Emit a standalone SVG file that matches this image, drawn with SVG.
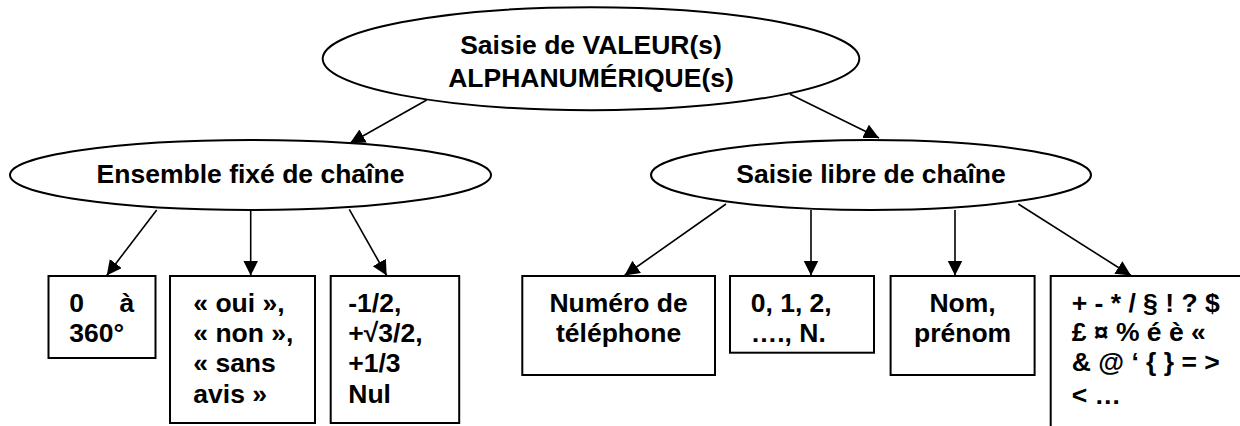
<svg xmlns="http://www.w3.org/2000/svg" width="1240" height="426" viewBox="0 0 1240 426">
<style>
.shape{fill:#fff;stroke:#000;stroke-width:2}
.t{font-family:"Liberation Sans",Arial,sans-serif;font-weight:bold;font-size:26.5px;fill:#000}
.m{text-anchor:middle}
.c line{stroke:#000;stroke-width:1.6;marker-end:url(#ah)}
</style>
<defs>
<marker id="ah" markerUnits="userSpaceOnUse" markerWidth="16" markerHeight="16" refX="15" refY="7.5" orient="auto">
<path d="M0,0 L15,7.5 L0,15 Z" fill="#000"/>
</marker>
</defs>
<rect width="1240" height="426" fill="#fff"/>
<g id="root">
<ellipse class="shape" cx="591" cy="58.7" rx="268.3" ry="51.5"/>
<text class="t m" x="591" y="54">Saisie de VALEUR(s)</text>
<text class="t m" x="591" y="87.3">ALPHANUMÉRIQUE(s)</text>
</g>
<g id="fixe">
<ellipse class="shape" cx="250.5" cy="175" rx="240.5" ry="35"/>
<text class="t m" x="250.5" y="183.3">Ensemble fixé de chaîne</text>
</g>
<g id="libre">
<ellipse class="shape" cx="871" cy="175" rx="220" ry="35"/>
<text class="t m" x="871" y="183.3">Saisie libre de chaîne</text>
</g>
<g id="b1">
<rect class="shape" x="48.5" y="276" width="107" height="82"/>
<text class="t" y="312.3"><tspan x="69.3">0</tspan><tspan x="119.5">à</tspan></text>
<text class="t" x="69.3" y="341.7">360°</text>
</g>
<g id="b2">
<rect class="shape" x="170" y="276" width="145" height="147"/>
<text class="t" x="193.3" y="312.3">« oui »,</text>
<text class="t" x="193.3" y="341.7">« non »,</text>
<text class="t" x="193.3" y="371.7">« sans</text>
<text class="t" x="193.3" y="403">avis »</text>
</g>
<g id="b3">
<rect class="shape" x="330.7" y="276" width="128.5" height="147"/>
<text class="t" x="348.3" y="312.3">-1/2,</text>
<text class="t" x="348.3" y="341.7">+√3/2,</text>
<text class="t" x="348.3" y="371.7">+1/3</text>
<text class="t" x="348.3" y="403">Nul</text>
</g>
<g id="b4">
<rect class="shape" x="522.3" y="276" width="192.7" height="99"/>
<text class="t m" x="618.6" y="312.3">Numéro de</text>
<text class="t m" x="618.6" y="341.7">téléphone</text>
</g>
<g id="b5">
<rect class="shape" x="730" y="276" width="144" height="76.7"/>
<text class="t" x="750.7" y="312.3">0, 1, 2,</text>
<text class="t" x="750.7" y="341.7">…., N.</text>
</g>
<g id="b6">
<rect class="shape" x="890.6" y="276" width="144" height="99"/>
<text class="t m" x="962.6" y="312.3">Nom,</text>
<text class="t m" x="962.6" y="341.7">prénom</text>
</g>
<g id="b7">
<rect class="shape" x="1050.7" y="276" width="220" height="200"/>
<text class="t" x="1071.7" y="312.3">+ - * / § ! ? $</text>
<text class="t" x="1071.7" y="341">£ ¤ % é è «</text>
<text class="t" x="1071.7" y="371">&amp; @ ‘ { } = &gt;</text>
<text class="t" x="1071.7" y="403.5">&lt; …</text>
</g>
<g id="connectors" class="c">
<line x1="426.7" y1="100" x2="350" y2="143.3"/>
<line x1="790" y1="94.3" x2="879" y2="138"/>
<line x1="156.7" y1="210" x2="106.7" y2="275.5"/>
<line x1="250.7" y1="210" x2="250.7" y2="275.5"/>
<line x1="349.3" y1="209.3" x2="386.7" y2="275.5"/>
<line x1="726" y1="204" x2="624.5" y2="275.5"/>
<line x1="811" y1="210" x2="811" y2="275.5"/>
<line x1="955" y1="210" x2="955" y2="275.5"/>
<line x1="1018.3" y1="204" x2="1131" y2="275.5"/>
</g>
</svg>
